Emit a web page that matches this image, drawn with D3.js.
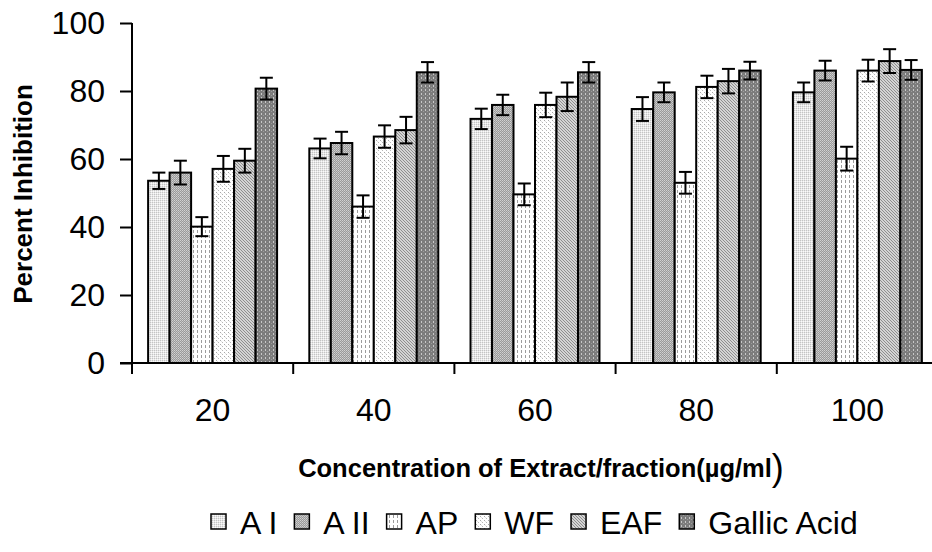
<!DOCTYPE html>
<html>
<head>
<meta charset="utf-8">
<title>Percent Inhibition</title>
<script src="https://cdnjs.cloudflare.com/ajax/libs/d3/7.8.5/d3.min.js"></script>
<style>
body { margin: 0; background: #fff; }
svg { font-family: "Liberation Sans", Arial, sans-serif; display: block; }
.axis path, .axis line { stroke: #000; stroke-width: 2px; }
.axis text { font-size: 32px; fill: #000; }
</style>
</head>
<body>
<svg id="chart" width="932" height="552"></svg>
<script>
// data
var concentrations = ["20", "40", "60", "80", "100"];
var seriesNames = ["A I", "A II", "AP", "WF", "EAF", "Gallic Acid"];
var yTicks = [0, 20, 40, 60, 80, 100];

var valAI     = [53.6, 63.1, 71.8, 74.7, 79.6];
var valAII    = [56.0, 64.7, 75.9, 79.6, 86.0];
var valAP     = [40.1, 46.0, 49.6, 53.0, 60.1];
var valWF     = [57.1, 66.6, 75.9, 81.2, 86.0];
var valEAF    = [59.5, 68.5, 78.3, 82.9, 88.8];
var valGallic = [80.7, 85.5, 85.5, 86.0, 86.2];

var errAI     = [2.4, 2.9, 3.0, 3.5, 2.9];
var errAII    = [3.5, 3.3, 3.0, 2.9, 2.9];
var errAP     = [2.8, 3.3, 3.2, 3.2, 3.5];
var errWF     = [3.8, 3.3, 3.6, 3.3, 3.2];
var errEAF    = [3.5, 3.9, 4.2, 3.6, 3.5];
var errGallic = [3.2, 3.0, 3.0, 2.6, 2.9];

var values = [valAI, valAII, valAP, valWF, valEAF, valGallic];
var errors = [errAI, errAII, errAP, errWF, errEAF, errGallic];

var rows = [];
concentrations.forEach(function(c, i) {
  seriesNames.forEach(function(s, j) {
    rows.push({conc: c, series: s, idx: j, v: values[j][i], e: errors[j][i]});
  });
});

var svg = d3.select("#chart");
var defs = svg.append("defs");

// fill patterns, one per series
function makePattern(id, w, h, bg, cells) {
  var p = defs.append("pattern")
    .attr("id", id)
    .attr("patternUnits", "userSpaceOnUse")
    .attr("width", w).attr("height", h);
  p.append("rect").attr("width", w).attr("height", h).attr("fill", bg);
  cells.forEach(function(c) {
    p.append("rect").attr("x", c[0]).attr("y", c[1])
      .attr("width", c[2] || 1).attr("height", c[3] || 1)
      .attr("fill", c[4]);
  });
}
makePattern("pAI", 2, 2, "#e6e6e6", [[0, 0, 1, 1, "#c4c4c4"], [1, 1, 1, 1, "#fafafa"]]);
makePattern("pAII", 2, 2, "#9a9a9a", [[0, 0, 1, 1, "#d2d2d2"], [1, 1, 1, 1, "#c0c0c0"]]);
makePattern("pAP", 4, 5, "#ffffff", [[1, 0, 1, 3, "#9c9c9c"]]);
makePattern("pWF", 4, 4, "#ffffff", [[0, 0, 1, 1, "#a8a8a8"], [2, 2, 1, 1, "#b8b8b8"], [1, 1, 1, 1, "#e2e2e2"]]);
makePattern("pEAF", 3, 3, "#d4d4d4", [[0, 0, 1, 1, "#8e8e8e"], [1, 1, 1, 1, "#8e8e8e"], [2, 2, 1, 1, "#8e8e8e"]]);
makePattern("pGallic", 4, 4, "#7c7c7c", [[1, 1, 1, 2, "#c8c8c8"], [3, 3, 1, 1, "#9c9c9c"]]);
var fills = ["url(#pAI)", "url(#pAII)", "url(#pAP)", "url(#pWF)", "url(#pEAF)", "url(#pGallic)"];

var x = d3.scaleBand()
  .domain(concentrations)
  .range([132, 938])
  .paddingInner(0.2)
  .paddingOuter(0.1);

var xs = d3.scaleBand()
  .domain(seriesNames)
  .range([0, x.bandwidth()]);

var y = d3.scaleLinear()
  .domain([0, 100])
  .range([363, 23]);

// bars
var bars = svg.append("g");
bars.selectAll("rect")
  .data(rows)
  .enter()
  .append("rect")
    .attr("x", function(d) { return x(d.conc) + xs(d.series); })
    .attr("y", function(d) { return y(d.v); })
    .attr("width", xs.bandwidth())
    .attr("height", function(d) { return y(0) - y(d.v); })
    .attr("fill", function(d) { return fills[d.idx]; })
    .attr("stroke", "#000")
    .attr("stroke-width", 2);

// error bars
var eb = svg.append("g").attr("stroke", "#000").attr("stroke-width", 2);
rows.forEach(function(d) {
  var cx = x(d.conc) + xs(d.series) + xs.bandwidth() / 2;
  eb.append("line").attr("x1", cx).attr("x2", cx)
    .attr("y1", y(d.v + d.e)).attr("y2", y(d.v - d.e));
  [d.v + d.e, d.v - d.e].forEach(function(t) {
    eb.append("line").attr("x1", cx - 6.5).attr("x2", cx + 6.5)
      .attr("y1", y(t)).attr("y2", y(t));
  });
});

// y axis
var yAxis = d3.axisLeft(y).tickValues(yTicks).tickSize(12).tickPadding(15);
svg.append("g")
  .attr("class", "axis")
  .attr("transform", "translate(132,0)")
  .call(yAxis)
  .call(function(g) { g.select(".domain").attr("d", "M0,23V363"); });

// x axis: line, boundary ticks, centred labels
var xg = svg.append("g").attr("class", "axis");
xg.append("line")
  .attr("x1", 120).attr("x2", 932)
  .attr("y1", y(0)).attr("y2", y(0));
var bounds = concentrations.map(function(c) { return x(c) - x.step() * x.paddingOuter(); });
xg.selectAll(".btick")
  .data(bounds)
  .enter()
  .append("line")
    .attr("x1", function(d) { return d; })
    .attr("x2", function(d) { return d; })
    .attr("y1", y(0)).attr("y2", y(0) + 11);
xg.selectAll(".xlab")
  .data(concentrations)
  .enter()
  .append("text")
    .attr("x", function(d) { return x(d) + x.bandwidth() / 2; })
    .attr("y", 421)
    .attr("text-anchor", "middle")
    .text(function(d) { return d; });

// axis titles
svg.append("text")
  .attr("transform", "translate(32,194) rotate(-90)")
  .attr("text-anchor", "middle")
  .attr("font-size", 26)
  .attr("font-weight", "bold")
  .text("Percent Inhibition");

var xt = svg.append("text")
  .attr("x", 541)
  .attr("y", 477)
  .attr("text-anchor", "middle")
  .attr("font-size", 25.5)
  .attr("font-weight", "bold");
xt.append("tspan").text("Concentration of Extract/fraction(µg/ml");
xt.append("tspan").attr("font-size", 36).attr("font-weight", "normal").attr("dy", 3).text(")");

// legend
var legend = svg.append("g");
var lx = 211;
seriesNames.forEach(function(s, j) {
  legend.append("rect")
    .attr("x", lx).attr("y", 514)
    .attr("width", 15).attr("height", 15)
    .attr("fill", fills[j])
    .attr("stroke", "#000").attr("stroke-width", 1.5);
  var t = legend.append("text")
    .attr("x", lx + 29).attr("y", 534)
    .attr("font-size", 32)
    .text(s);
  lx += 29 + t.node().getComputedTextLength() + 17;
});
</script>
</body>
</html>
